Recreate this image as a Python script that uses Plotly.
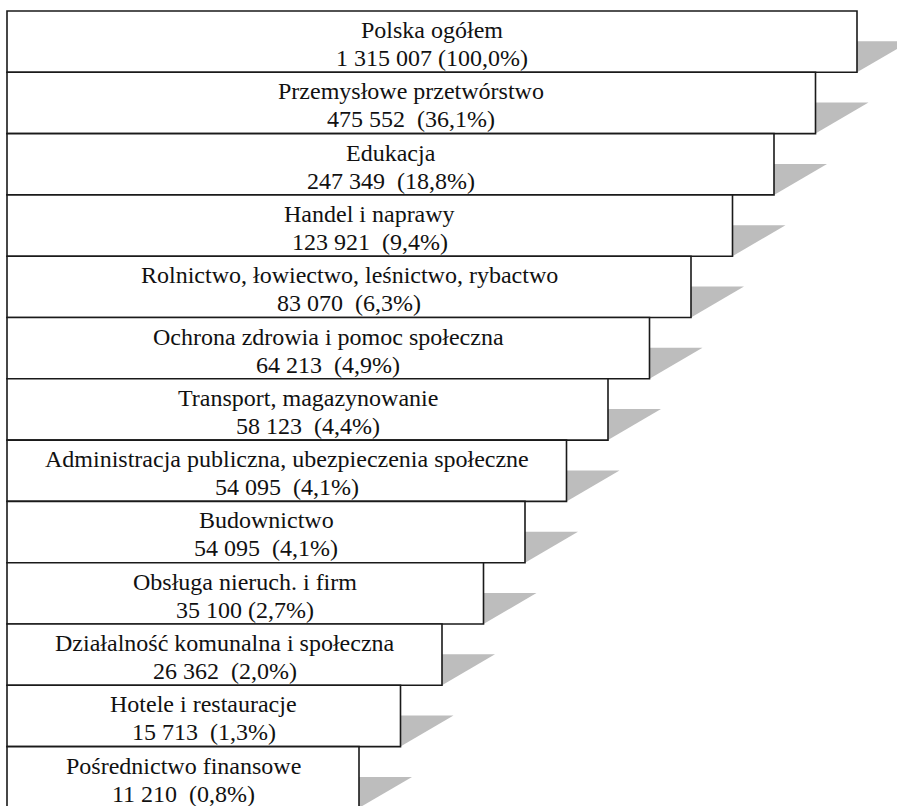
import plotly.graph_objects as go

# Employment by sector
sectors = [
    "Polska ogółem",
    "Przemysłowe przetwórstwo",
    "Edukacja",
    "Handel i naprawy",
    "Rolnictwo, łowiectwo, leśnictwo, rybactwo",
    "Ochrona zdrowia i pomoc społeczna",
    "Transport, magazynowanie",
    "Administracja publiczna, ubezpieczenia społeczne",
    "Budownictwo",
    "Obsługa nieruch. i firm",
    "Działalność komunalna i społeczna",
    "Hotele i restauracje",
    "Pośrednictwo finansowe",
]
counts = [1315007, 475552, 247349, 123921, 83070, 64213, 58123,
          54095, 54095, 35100, 26362, 15713, 11210]
shares = [100.0, 36.1, 18.8, 9.4, 6.3, 4.9, 4.4, 4.1, 4.1, 2.7, 2.0, 1.3, 0.8]
# gap between the count and the share in each label
gaps = [" ", "  ", "  ", "  ", "  ", "  ", "  ", "  ", "  ", " ", "  ", "  ", "  "]

W, H = 897, 806
left = 7
top = 11
row_h = 61.3
first_right = 857
step = 41.5
shadow_w = 53
shadow_h = 31
FONT = dict(family="Liberation Serif, Times New Roman, serif", size=24, color="#111")


def fmt_count(n):
    return f"{n:,}".replace(",", " ")


def fmt_share(p):
    return f"({p:.1f}%)".replace(".", ",")


fig = go.Figure()
shapes = []
annotations = []
for i, name in enumerate(sectors):
    y0 = top + i * row_h
    y1 = y0 + row_h
    xr = first_right - i * step
    xc = (left + xr) / 2
    # grey wedge shadow to the right of each box
    shapes.append(dict(
        type="path", xref="x", yref="y",
        path=f"M {xr},{y1} L {xr},{y1 - shadow_h} L {xr + shadow_w},{y1 - shadow_h} Z",
        fillcolor="#bdbdbd", line=dict(width=0), layer="below",
    ))
    shapes.append(dict(
        type="rect", xref="x", yref="y",
        x0=left, x1=xr, y0=y0, y1=y1,
        fillcolor="white", line=dict(color="#1a1a1a", width=1.6),
    ))
    # sector name and employment figure, one line each
    annotations.append(dict(
        x=xc, y=y0 + 19, xref="x", yref="y", text=name,
        showarrow=False, xanchor="center", yanchor="middle", font=FONT,
    ))
    annotations.append(dict(
        x=xc, y=y0 + 47, xref="x", yref="y",
        text=f"{fmt_count(counts[i])}{gaps[i]}{fmt_share(shares[i])}",
        showarrow=False, xanchor="center", yanchor="middle", font=FONT,
    ))

fig.update_layout(
    width=W, height=H,
    margin=dict(l=0, r=0, t=0, b=0),
    paper_bgcolor="white", plot_bgcolor="white",
    shapes=shapes, annotations=annotations,
    xaxis=dict(range=[0, W], visible=False, fixedrange=True),
    yaxis=dict(range=[H, 0], visible=False, fixedrange=True),
    showlegend=False,
)

fig.write_html("out.html")
